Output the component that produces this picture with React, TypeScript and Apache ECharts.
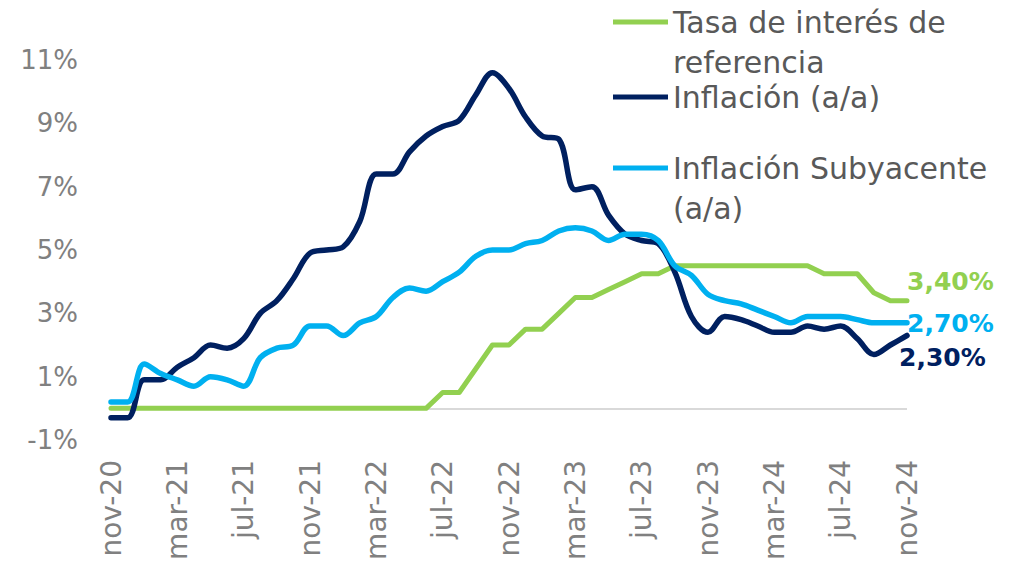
import React, { useEffect, useRef } from "react";
import * as echarts from "echarts";

const months = [
  "nov-20","dic-20","ene-21","feb-21","mar-21","abr-21","may-21","jun-21","jul-21","ago-21","sep-21","oct-21",
  "nov-21","dic-21","ene-22","feb-22","mar-22","abr-22","may-22","jun-22","jul-22","ago-22","sep-22","oct-22",
  "nov-22","dic-22","ene-23","feb-23","mar-23","abr-23","may-23","jun-23","jul-23","ago-23","sep-23","oct-23",
  "nov-23","dic-23","ene-24","feb-24","mar-24","abr-24","may-24","jun-24","jul-24","ago-24","sep-24","oct-24",
  "nov-24",
];
const shownLabels = ["nov-20","mar-21","jul-21","nov-21","mar-22","jul-22","nov-22","mar-23","jul-23","nov-23","mar-24","jul-24","nov-24"];

const tasaReferencia = [
  0,0,0,0,0,0,0,0,0,0,0,0,
  0,0,0,0,0,0,0,0,0.5,0.5,1.25,2.0,
  2.0,2.5,2.5,3.0,3.5,3.5,3.75,4.0,4.25,4.25,4.5,4.5,
  4.5,4.5,4.5,4.5,4.5,4.5,4.5,4.25,4.25,4.25,3.65,3.4,
  3.4,
];
const inflacion = [
  -0.3,-0.3,0.9,0.9,1.3,1.6,2.0,1.9,2.2,3.0,3.4,4.1,
  4.9,5.0,5.1,5.9,7.4,7.4,8.1,8.6,8.9,9.1,9.9,10.6,
  10.1,9.2,8.6,8.5,6.9,7.0,6.1,5.5,5.3,5.2,4.3,2.9,
  2.4,2.9,2.8,2.6,2.4,2.4,2.6,2.5,2.6,2.2,1.7,2.0,
  2.3,
];
const subyacente = [
  0.2,0.2,1.4,1.1,0.9,0.7,1.0,0.9,0.7,1.6,1.9,2.0,
  2.6,2.6,2.3,2.7,2.9,3.5,3.8,3.7,4.0,4.3,4.8,5.0,
  5.0,5.2,5.3,5.6,5.7,5.6,5.3,5.5,5.5,5.3,4.5,4.2,
  3.6,3.4,3.3,3.1,2.9,2.7,2.9,2.9,2.9,2.8,2.7,2.7,
  2.7,
];
const yTicks = { min: -1, max: 11, interval: 2 };

const FONT = "'DejaVu Sans', sans-serif";
const GREEN = "#92D050";
const NAVY = "#002060";
const BLUE = "#00B0F0";

const fmt = (v: number) => v.toFixed(2).replace(".", ",") + "%";

function endLabel(color: string, offset: number[]) {
  return {
    show: true,
    distance: 0,
    offset,
    formatter: (p: any) => fmt(Number(p.value)),
    color,
    fontFamily: FONT,
    fontWeight: "bold",
    fontSize: 25,
  };
}

export default function App() {
  const ref = useRef<HTMLDivElement>(null);
  useEffect(() => {
    if (!ref.current) return;
    const chart = echarts.init(ref.current, undefined, { renderer: "svg" });
    const legendText = {
      fontFamily: FONT,
      fontSize: 30,
      color: "#595959",
      lineHeight: 40,
    };
    const legendCommon = {
      orient: "vertical",
      left: 613,
      padding: 0,
      itemWidth: 55,
      itemHeight: 5,
      itemGap: 5,
      icon: "rect",
      selectedMode: false,
    };
    chart.setOption({
      animation: false,
      backgroundColor: "#ffffff",
      grid: { left: 111, right: 109, top: 60, bottom: 126 },
      legend: [
        {
          ...legendCommon,
          top: -38,
          data: ["Tasa de interés de referencia"],
          formatter: () => " \nTasa de interés de\nreferencia",
          textStyle: { ...legendText },
        },
        {
          ...legendCommon,
          top: 77,
          data: ["Inflación (a/a)"],
          textStyle: { ...legendText },
        },
        {
          ...legendCommon,
          top: 108,
          data: ["Inflación Subyacente (a/a)"],
          formatter: () => " \nInflación Subyacente\n(a/a)",
          textStyle: { ...legendText },
        },
      ],
      xAxis: {
        type: "category",
        data: months,
        boundaryGap: false,
        axisLine: { show: false },
        axisTick: { show: false },
        axisLabel: {
          rotate: 90,
          margin: 20,
          interval: (idx: number, val: string) => shownLabels.includes(val),
          color: "#808080",
          fontFamily: FONT,
          fontSize: 28,
        },
        splitLine: { show: false },
      },
      yAxis: {
        type: "value",
        min: yTicks.min,
        max: yTicks.max,
        interval: yTicks.interval,
        axisLine: { show: false },
        axisTick: { show: false },
        splitLine: { show: false },
        axisLabel: {
          formatter: "{value}%",
          color: "#808080",
          fontFamily: FONT,
          fontSize: 26,
          margin: 33,
        },
      },
      series: [
        {
          name: "Tasa de interés de referencia",
          type: "line",
          data: tasaReferencia,
          showSymbol: false,
          symbol: "none",
          smooth: false,
          lineStyle: { color: GREEN, width: 5, cap: "round", join: "round" },
          itemStyle: { color: GREEN },
          endLabel: endLabel(GREEN, [0, -19]),
          z: 2,
          markLine: {
            silent: true,
            symbol: "none",
            label: { show: false },
            lineStyle: { color: "#d9d9d9", width: 2, type: "solid" },
            data: [{ yAxis: 0 }],
            z: 1,
          },
        },
        {
          name: "Inflación (a/a)",
          type: "line",
          data: inflacion,
          showSymbol: false,
          symbol: "none",
          smooth: 0.35,
          lineStyle: { color: NAVY, width: 5.5, cap: "round", join: "round" },
          itemStyle: { color: NAVY },
          endLabel: endLabel(NAVY, [-8, 22]),
          z: 3,
        },
        {
          name: "Inflación Subyacente (a/a)",
          type: "line",
          data: subyacente,
          showSymbol: false,
          symbol: "none",
          smooth: 0.35,
          lineStyle: { color: BLUE, width: 5.5, cap: "round", join: "round" },
          itemStyle: { color: BLUE },
          endLabel: endLabel(BLUE, [0, 1]),
          z: 4,
        },
      ],
    });
    return () => chart.dispose();
  }, []);
  return (
    <div
      ref={ref}
      style={{ position: "fixed", left: 0, top: 0, width: 1016, height: 566 }}
    />
  );
}
